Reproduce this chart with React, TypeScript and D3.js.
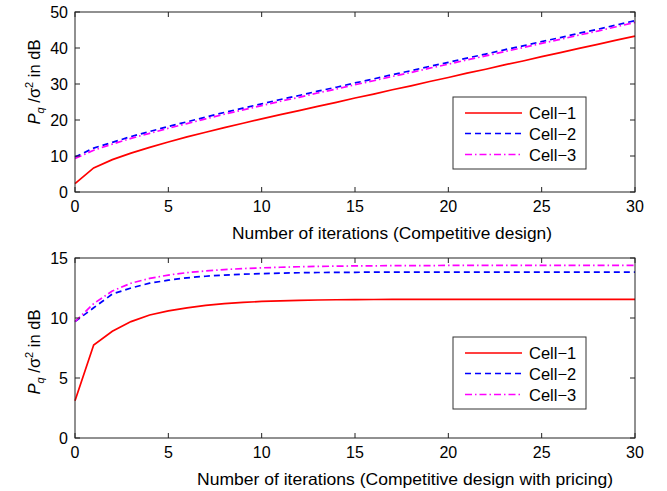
import React from "react";
import * as d3 from "d3";

const iterations = d3.range(0, 31);
const seriesNames = ["Cell−1", "Cell−2", "Cell−3"];

const topCell1 = [2.3, 6.7, 9.0, 10.8, 12.4, 13.9, 15.3, 16.6, 17.9, 19.1, 20.3, 21.5, 22.6, 23.8, 24.9, 26.1, 27.2, 28.4, 29.5, 30.7, 31.8, 33.0, 34.1, 35.3, 36.4, 37.6, 38.7, 39.9, 41.0, 42.2, 43.3];
const topCell2 = [9.7, 12.2, 13.8, 15.4, 16.8, 18.2, 19.5, 20.8, 22.1, 23.3, 24.5, 25.7, 26.8, 28.0, 29.1, 30.3, 31.4, 32.6, 33.7, 34.9, 36.0, 37.2, 38.3, 39.5, 40.6, 41.8, 42.9, 44.1, 45.2, 46.4, 47.6];
const topCell3 = [9.3, 11.6, 13.3, 14.9, 16.3, 17.7, 19.0, 20.3, 21.6, 22.8, 24.0, 25.2, 26.3, 27.5, 28.6, 29.8, 30.9, 32.1, 33.2, 34.4, 35.5, 36.7, 37.8, 39.0, 40.1, 41.3, 42.4, 43.6, 44.7, 45.9, 47.1];

const botCell1 = [3.1, 7.75, 8.9, 9.7, 10.25, 10.6, 10.85, 11.05, 11.2, 11.3, 11.38, 11.43, 11.47, 11.5, 11.52, 11.53, 11.54, 11.55, 11.55, 11.56, 11.56, 11.56, 11.56, 11.56, 11.56, 11.56, 11.56, 11.56, 11.56, 11.56, 11.56];
const botCell2 = [9.7, 10.85, 12.0, 12.5, 12.9, 13.15, 13.35, 13.48, 13.58, 13.65, 13.7, 13.74, 13.77, 13.79, 13.8, 13.81, 13.82, 13.82, 13.83, 13.83, 13.83, 13.83, 13.83, 13.83, 13.83, 13.83, 13.83, 13.83, 13.83, 13.83, 13.83];
const botCell3 = [9.7, 11.2, 12.25, 12.9, 13.3, 13.58, 13.78, 13.92, 14.03, 14.12, 14.18, 14.23, 14.27, 14.3, 14.32, 14.34, 14.35, 14.36, 14.37, 14.37, 14.38, 14.38, 14.38, 14.38, 14.38, 14.38, 14.38, 14.38, 14.38, 14.38, 14.38];

const xTicks = [0, 5, 10, 15, 20, 25, 30];
const topYTicks = [0, 10, 20, 30, 40, 50];
const botYTicks = [0, 5, 10, 15];

const colors = ["#ff0000", "#0000ff", "#ff00ff"];
const dashes = ["none", "6,4", "7,3,1.5,3"];
const font = "Liberation Sans, Arial, sans-serif";

type PanelProps = {
  top: number;
  bottom: number;
  yMax: number;
  yTicks: number[];
  series: number[][];
  xLabel: string;
  xLabelStart: number;
  xLabelWidth: number;
  legendTop: number;
  yLabelCenter: number;
};

function Panel({ top, bottom, yMax, yTicks, series, xLabel, xLabelStart, xLabelWidth, legendTop, yLabelCenter }: PanelProps) {
  const left = 75;
  const right = 635;
  const x = d3.scaleLinear().domain([0, 30]).range([left, right]);
  const y = d3.scaleLinear().domain([0, yMax]).range([bottom, top]);
  const line = d3
    .line<number>()
    .x((_, i) => x(iterations[i]))
    .y((d) => y(d));
  const tl = 5;
  const legLeft = 453;
  const legW = 133;
  const legH = 72;
  const rows = [16, 36.5, 57.5];
  return (
    <g>
      {series.map((s, i) => (
        <path
          key={i}
          d={line(s) || ""}
          fill="none"
          stroke={colors[i]}
          strokeWidth={1.7}
          strokeDasharray={dashes[i]}
        />
      ))}
      <rect x={left} y={top} width={right - left} height={bottom - top} fill="none" stroke="#222" strokeWidth={1} />
      {xTicks.map((t) => (
        <g key={"x" + t}>
          <line x1={x(t)} x2={x(t)} y1={bottom} y2={bottom - tl} stroke="#222" />
          <line x1={x(t)} x2={x(t)} y1={top} y2={top + tl} stroke="#222" />
          <text x={x(t)} y={bottom + 20} textAnchor="middle" fontSize={16} fontFamily={font}>
            {t}
          </text>
        </g>
      ))}
      {yTicks.map((t) => (
        <g key={"y" + t}>
          <line x1={left} x2={left + tl} y1={y(t)} y2={y(t)} stroke="#222" />
          <line x1={right} x2={right - tl} y1={y(t)} y2={y(t)} stroke="#222" />
          <text x={left - 7} y={y(t) + 6} textAnchor="end" fontSize={16} fontFamily={font}>
            {t}
          </text>
        </g>
      ))}
      <text
        x={xLabelStart}
        y={bottom + 47}
        textAnchor="start"
        fontSize={16.5}
        fontFamily={font}
        textLength={xLabelWidth}
        lengthAdjust="spacingAndGlyphs"
      >
        {xLabel}
      </text>
      <text
        transform={`translate(40, ${yLabelCenter}) rotate(-90)`}
        textAnchor="middle"
        fontSize={16.5}
        fontFamily={font}
      >
        <tspan fontStyle="italic">P</tspan>
        <tspan fontStyle="italic" fontSize={11} dy={4}>q</tspan>
        <tspan dy={-4}> /σ</tspan>
        <tspan fontSize={11} dy={-7}>2</tspan>
        <tspan dy={7}> in dB</tspan>
      </text>
      <rect x={legLeft} y={legendTop} width={legW} height={legH} fill="#fff" stroke="#333" strokeWidth={1} />
      {seriesNames.map((n, i) => {
        const ly = legendTop + rows[i];
        return (
          <g key={n}>
            <line x1={legLeft + 12} x2={legLeft + 69} y1={ly} y2={ly} stroke={colors[i]} strokeWidth={1.7} strokeDasharray={dashes[i]} />
            <text x={legLeft + 76} y={ly + 6} fontSize={16.5} fontFamily={font}>
              {n}
            </text>
          </g>
        );
      })}
    </g>
  );
}

export default function App() {
  return (
    <svg width={667} height={491} style={{ position: "absolute", left: 0, top: 0, background: "#fff" }}>
      <rect width={667} height={491} fill="#fff" />
      <Panel
        top={12}
        bottom={192}
        yMax={50}
        yTicks={topYTicks}
        series={[topCell1, topCell2, topCell3]}
        xLabel="Number of iterations (Competitive design)"
        xLabelStart={232}
        xLabelWidth={320}
        legendTop={97}
        yLabelCenter={82}
      />
      <Panel
        top={258}
        bottom={438}
        yMax={15}
        yTicks={botYTicks}
        series={[botCell1, botCell2, botCell3]}
        xLabel="Number of iterations (Competitive design with pricing)"
        xLabelStart={197}
        xLabelWidth={416}
        legendTop={337}
        yLabelCenter={352}
      />
    </svg>
  );
}
